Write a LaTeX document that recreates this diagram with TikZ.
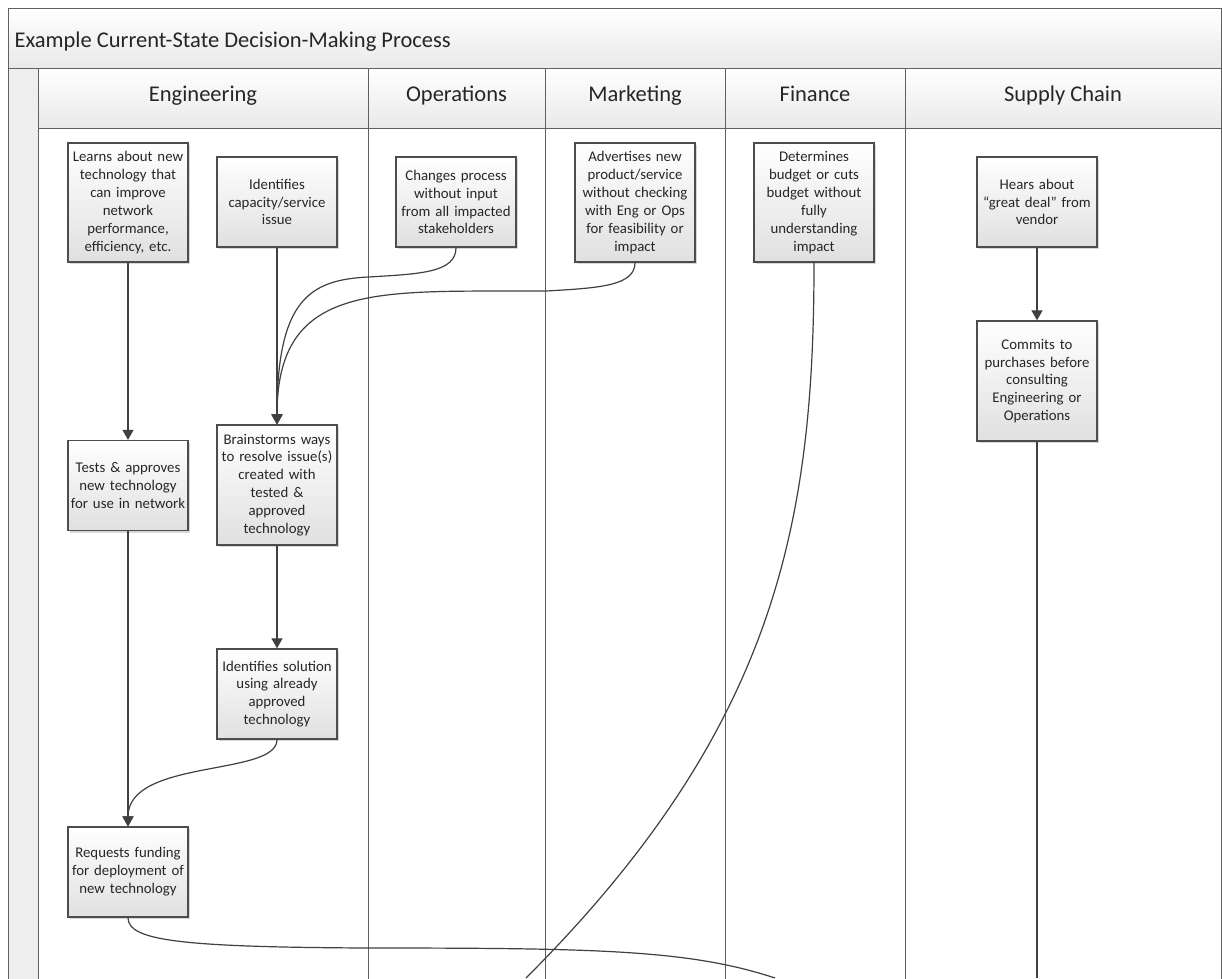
\documentclass[tikz,border=0pt]{standalone}
\usepackage{fontspec}
\setmainfont{Carlito}
\usetikzlibrary{arrows.meta,shadows,positioning}
\definecolor{colline}{RGB}{96,96,96}
\definecolor{colbox}{RGB}{77,77,77}
\definecolor{colarrow}{RGB}{64,64,64}
\definecolor{coltext}{RGB}{38,38,38}
\definecolor{colshade}{RGB}{224,224,224}
\definecolor{colband}{RGB}{233,233,233}
\definecolor{colstrip}{RGB}{238,238,238}
\tikzset{
  % PROCESS BOXES
  frameStep/.style={
    rectangle,
    draw=colbox, line width=1.3pt,
    top color=white, bottom color=colshade,
    drop shadow={shadow xshift=2pt,shadow yshift=-2pt,opacity=0.3},
    text width=117pt, inner sep=1.5pt,
    minimum height=90pt,
    text centered, text=coltext,
    font=\fontsize{14.8}{17.9}\selectfont
  },
  frameTall/.style={
    frameStep,
    minimum height=120pt
  },
  % LANE HEADERS
  frameHeader/.style={
    rectangle,
    draw=colline, line width=0.9pt,
    top color=white, bottom color=colband,
    minimum height=60pt,
    text height=14pt, text depth=8pt,
    text=coltext,
    font=\fontsize{22.5}{27}\selectfont
  },
  frameBand/.style={
    draw=colline, line width=0.9pt,
    top color=white, bottom color=colband
  },
  laneLine/.style={
    draw=colline, line width=0.9pt
  },
  % MAIN FLOWS
  lineData/.style={
    draw=colarrow, line width=1.2pt, -{Triangle[length=10pt,width=11pt]}
  },
  lineOut/.style={
    draw=colarrow, line width=1.2pt
  }
}

\begin{document}
\begin{tikzpicture}[x=1pt,y=-1pt]

\useasboundingbox (0,0) rectangle (1222,978);
\fill [white] (0,0) rectangle (1222,978);

% Title band and lanes
\path [frameBand] (8,8) rectangle (1221,68);
\node [anchor=base west, text=coltext, font=\fontsize{22.5}{27}\selectfont] (title) at (11,47) {Example Current-State Decision-Making Process};
\path [fill=colstrip, draw=colline, line width=0.9pt] (8,68) rectangle (38,990);

\node [frameHeader, minimum width=330pt] (lane_eng) at (203,98) {Engineering};
\node [frameHeader, minimum width=177pt] (lane_ops) at (456.5,98) {Operations};
\node [frameHeader, minimum width=180pt] (lane_mkt) at (635,98) {Marketing};
\node [frameHeader, minimum width=180pt] (lane_fin) at (815,98) {Finance};
\node [frameHeader, minimum width=316pt] (lane_sup) at (1063,98) {Supply Chain};

\foreach \x in {368,545,725,905,1221}
  \path [laneLine] (\x,128) -- (\x,990);

% Engineering
\node [frameTall, minimum height=119pt] (eng_learn) at (128,202.5) {Learns about new \\ technology that \\ can improve \\ network \\ performance, \\ efficiency, etc.};
\node [frameStep] (eng_identify) at (277,202) {Identifies \\ capacity/service \\ issue};
\node [frameStep] (eng_tests) at (128,485.5) {Tests \& approves \\ new technology \\ for use in network};
\node [frameTall] (eng_brainstorm) at (277,485) {Brainstorms ways \\ to resolve issue(s) \\ created with \\ tested \& \\ approved \\ technology};
\node [frameStep] (eng_solution) at (277,694) {Identifies solution \\ using already \\ approved \\ technology};
\node [frameStep] (eng_funding) at (128,872) {Requests funding \\ for deployment of \\ new technology};

% Operations, Marketing, Finance
\node [frameStep] (ops_change) at (456,202) {Changes process \\ without input \\ from all impacted \\ stakeholders};
\node [frameTall, minimum height=119pt] (mkt_advert) at (635,202.5) {Advertises new \\ product/service \\ without checking \\ with Eng or Ops \\ for feasibility or \\ impact};
\node [frameTall, minimum height=119pt] (fin_budget) at (814,202.5) {Determines \\ budget or cuts \\ budget without \\ fully \\ understanding \\ impact};

% Supply Chain
\node [frameStep] (sup_hears) at (1037,202) {Hears about \\ “great deal” from \\ vendor};
\node [frameTall] (sup_commits) at (1037,381) {Commits to \\ purchases before \\ consulting \\ Engineering or \\ Operations};

% Bends and exits
\coordinate (ops_bend) at (368,277);
\coordinate (mkt_bend) at (546,291);
\coordinate (fund_bend) at (367,948);
\coordinate (fund_exit) at (775,978);
\coordinate (fin_exit) at (526,978);
\coordinate (sup_exit) at (1037,978);

% Lines
\path [lineData] (eng_learn) -- (eng_tests);
\path [lineData] (eng_identify) -- (eng_brainstorm);
\path [lineData] (eng_brainstorm) -- (eng_solution);
\path [lineData] (eng_tests) -- (eng_funding);
\path [lineData] (eng_solution.south) .. controls +(0,37) and +(0,-68) .. (eng_funding.north);

\path [lineData] (ops_change.south) .. controls +(0,25) and +(52,-3) .. (ops_bend) .. controls +(-58,3) and +(0,-125) .. (eng_brainstorm.north);
\path [lineData] (mkt_advert.south) .. controls +(0,23) and +(54,-3) .. (mkt_bend) .. controls +(-166,1) and +(0,-145) .. (eng_brainstorm.north);

\path [lineData] (sup_hears) -- (sup_commits);
\path [lineOut] (sup_commits) -- (sup_exit);

\path [lineOut] (fin_budget.south) .. controls +(0,260) and +(250,-250) .. (fin_exit);
\path [lineOut] (eng_funding.south) .. controls +(0,23) and +(-187,-1) .. (fund_bend) .. controls +(233,0) and +(-85,-28) .. (fund_exit);

\end{tikzpicture}
\end{document}
